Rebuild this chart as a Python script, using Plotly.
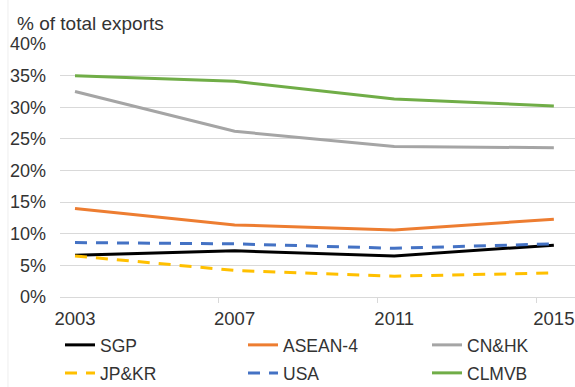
import plotly.graph_objects as go

years = [2003, 2007, 2011, 2015]
sgp = [6.6, 7.3, 6.5, 8.2]
asean4 = [14.0, 11.4, 10.6, 12.3]
cnhk = [32.5, 26.2, 23.8, 23.6]
jpkr = [6.5, 4.2, 3.3, 3.8]
usa = [8.6, 8.4, 7.7, 8.4]
clmvb = [35.0, 34.1, 31.3, 30.2]

names = ["SGP", "ASEAN-4", "CN&HK", "JP&KR", "USA", "CLMVB"]
values = [sgp, asean4, cnhk, jpkr, usa, clmvb]
colors = ["#000000", "#ED7D31", "#A5A5A5", "#FFC000", "#4472C4", "#70AD47"]
dashes = ["solid", "solid", "solid", "12px,9px", "12px,9px", "solid"]

y_ticks = [0, 5, 10, 15, 20, 25, 30, 35, 40]
y_ticktext = [f"{v}%" for v in y_ticks]
x_minor_ticks = [2002.62, 2006.6, 2010.58, 2014.56]

FONT = "Liberation Sans, Arial, sans-serif"
TXT = "#333333"
GRID = "#D9D9D9"

W, H = 575, 387
leg_cols = [60, 243, 427]
leg_rows = [345, 373]

fig = go.Figure()
layout_legends = {}
for i, (name, vals, color, dash) in enumerate(zip(names, values, colors, dashes)):
    lname = "legend" if i == 0 else f"legend{i + 1}"
    fig.add_trace(go.Scatter(
        x=years, y=vals, name=name, mode="lines",
        line=dict(color=color, width=3, dash=dash),
        legend=lname,
    ))
    col, row = i % 3, i // 3
    layout_legends[lname] = dict(
        orientation="h", xanchor="left", yanchor="middle",
        xref="container", yref="container",
        x=leg_cols[col] / W, y=1 - leg_rows[row] / H,
        font=dict(family=FONT, size=17.5, color=TXT),
        bgcolor="rgba(0,0,0,0)", itemwidth=30,
    )

fig.update_layout(
    width=W, height=H,
    margin=dict(l=60, r=0, t=44, b=H - 297, autoexpand=False),
    paper_bgcolor="white", plot_bgcolor="white",
    font=dict(family=FONT, size=17, color=TXT),
    showlegend=True,
    xaxis=dict(
        range=[2002.624, 2015.53], automargin=False,
        tickvals=years, ticktext=[str(y) for y in years],
        showgrid=False, zeroline=False, showline=False,
        ticks="", ticklabelstandoff=8, ticklabeloverflow="allow",
        tickfont=dict(family=FONT, size=18.5, color=TXT),
        minor=dict(tickvals=x_minor_ticks, ticks="outside", ticklen=5,
                   tickcolor=GRID, tickwidth=1, showgrid=False),
    ),
    yaxis=dict(
        range=[0, 40], automargin=False,
        tickvals=y_ticks, ticktext=y_ticktext,
        showgrid=True, gridcolor=GRID, gridwidth=1,
        zeroline=True, zerolinecolor=GRID, zerolinewidth=1,
        showline=False, ticks="", ticklabelstandoff=13,
        tickfont=dict(family=FONT, size=18, color=TXT),
    ),
    **layout_legends,
)

fig.add_annotation(
    text="% of total exports", xref="paper", yref="paper",
    x=-0.088, y=1.08, xanchor="left", yanchor="middle",
    showarrow=False, font=dict(family=FONT, size=19, color=TXT),
)

fig.add_shape(type="line", xref="paper", yref="paper",
              x0=-0.101, x1=-0.101, y0=-0.36, y1=1.18,
              line=dict(color="#EEEEEE", width=1))

fig.write_html(
    "out.html",
    config={"displayModeBar": False},
    post_script="document.body.style.margin='0';document.body.style.overflow='hidden';",
)
